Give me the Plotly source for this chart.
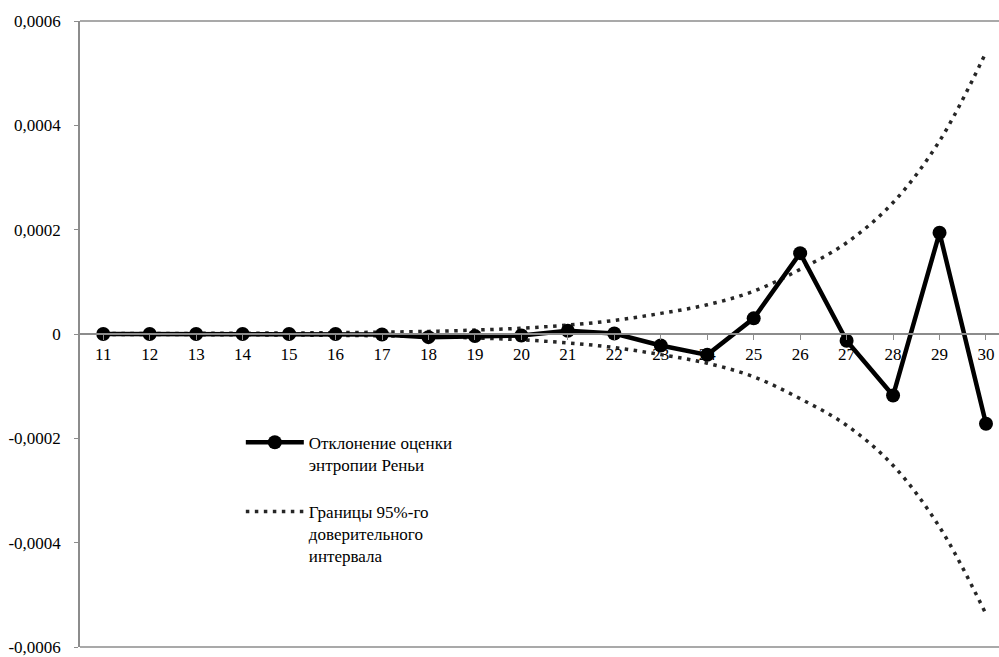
import plotly.graph_objects as go

categories = list(range(11, 31))
deviation = [0.0, 0.0, 0.0, 0.0, 0.0, 0.0, -0.000001, -0.000006, -0.000004, -0.000003,
             0.000006, 0.000001, -0.000022, -0.00004, 0.00003, 0.000155, -0.000013,
             -0.000118, 0.000194, -0.000172]
upper_bound = [0.0000008, 0.000001, 0.0000012, 0.0000015, 0.000002, 0.0000025, 0.0000035,
               0.000005, 0.0000075, 0.0000112, 0.000017, 0.000026, 0.0000395, 0.000056,
               0.000082, 0.000124, 0.000175, 0.000252, 0.00037, 0.00054]
lower_bound = [-0.0000008, -0.000001, -0.0000012, -0.0000015, -0.000002, -0.0000025, -0.0000035,
               -0.000005, -0.0000075, -0.0000112, -0.000017, -0.000026, -0.0000395, -0.000056,
               -0.000082, -0.000124, -0.000175, -0.000252, -0.00037, -0.000537]
y_ticks = [0.0006, 0.0004, 0.0002, 0, -0.0002, -0.0004, -0.0006]
y_tick_labels = ["0,0006", "0,0004", "0,0002", "0", "-0,0002", "-0,0004", "-0,0006"]

name_dev = "Отклонение оценки<br>энтропии Реньи"
name_ci = "Границы 95%-го<br>доверительного<br>интервала"

font = dict(family="Liberation Serif, DejaVu Serif, serif", size=17, color="#000000")
dot_color = "#262626"

fig = go.Figure()
fig.add_trace(go.Scatter(
    x=categories, y=upper_bound, mode="lines", name=name_ci, legendgroup="ci",
    line=dict(color=dot_color, width=3.5, dash="3.5px,5.5px", shape="spline"),
    legendrank=2,
))
fig.add_trace(go.Scatter(
    x=categories, y=lower_bound, mode="lines", name=name_ci, legendgroup="ci",
    showlegend=False,
    line=dict(color=dot_color, width=3.5, dash="3.5px,5.5px", shape="spline"),
))
fig.add_trace(go.Scatter(
    x=categories, y=deviation, mode="lines+markers", name=name_dev, legendgroup="dev",
    line=dict(color="#000000", width=4.5),
    marker=dict(symbol="circle", size=14, color="#000000"),
    legendrank=1,
))

axis_color = "#8c8c8c"
fig.update_layout(
    width=999, height=657,
    margin=dict(l=80, r=0, t=21, b=7),
    paper_bgcolor="white", plot_bgcolor="white",
    font=font,
    showlegend=True,
    legend=dict(x=0.175, y=0.355, xanchor="left", yanchor="top",
                bgcolor="rgba(0,0,0,0)", font=font, itemwidth=58,
                traceorder="grouped", tracegroupgap=22, valign="top"),
    xaxis=dict(range=[10.5, 30.28], tickmode="array", tickvals=categories,
               ticktext=[str(c) for c in categories],
               showgrid=False, zeroline=False, showline=True, linecolor=axis_color,
               linewidth=1.5, ticks="outside", ticklen=5, tickcolor=axis_color,
               anchor="free", position=0.5, tickfont=font),
    yaxis=dict(range=[-0.0006, 0.0006], tickmode="array", tickvals=y_ticks,
               ticktext=y_tick_labels, showgrid=False, zeroline=False,
               showline=True, linecolor=axis_color, linewidth=1.5,
               ticks="outside", ticklen=4, tickcolor=axis_color,
               ticklabelstandoff=10, tickfont=font, ticklabeloverflow="allow"),
    shapes=[
        dict(type="line", xref="paper", yref="paper", x0=0, x1=1, y0=1, y1=1,
             line=dict(color=axis_color, width=1.5)),
        dict(type="line", xref="paper", yref="paper", x0=0, x1=1, y0=0, y1=0,
             line=dict(color=axis_color, width=1.5)),
    ],
)

fig.write_html("out.html", config={"displayModeBar": False},
               post_script="document.body.style.margin='0';")
